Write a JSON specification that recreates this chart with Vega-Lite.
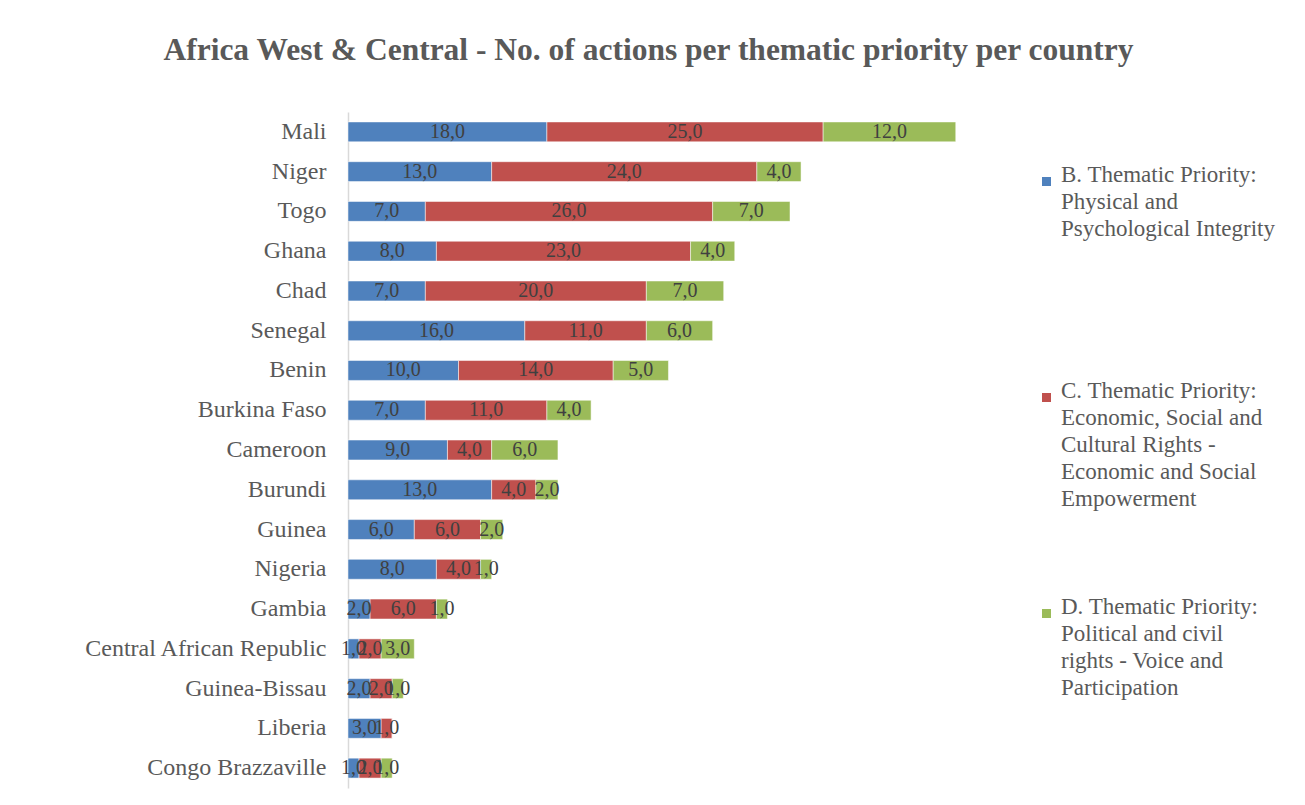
{
  "$schema": "https://vega.github.io/schema/vega-lite/v6.json",
  "width": 663,
  "height": 676,
  "autosize": "none",
  "padding": {"left": 348, "top": 112, "right": 294, "bottom": 17},
  "background": "white",
  "title": {
    "text": "Africa West & Central  - No. of actions per thematic priority  per country",
    "font": "Liberation Serif",
    "fontSize": 31.5,
    "fontWeight": "bold",
    "color": "#595959",
    "anchor": "middle",
    "dx": -31,
    "offset": 46
  },
  "config": {
    "view": {"stroke": null},
    "font": "Liberation Serif",
    "style": {"guide-label": {"lineHeight": 27}}
  },
  "data": {
    "values": [
      {"country": "Mali", "theme": "B", "value": 18},
      {"country": "Mali", "theme": "C", "value": 25},
      {"country": "Mali", "theme": "D", "value": 12},
      {"country": "Niger", "theme": "B", "value": 13},
      {"country": "Niger", "theme": "C", "value": 24},
      {"country": "Niger", "theme": "D", "value": 4},
      {"country": "Togo", "theme": "B", "value": 7},
      {"country": "Togo", "theme": "C", "value": 26},
      {"country": "Togo", "theme": "D", "value": 7},
      {"country": "Ghana", "theme": "B", "value": 8},
      {"country": "Ghana", "theme": "C", "value": 23},
      {"country": "Ghana", "theme": "D", "value": 4},
      {"country": "Chad", "theme": "B", "value": 7},
      {"country": "Chad", "theme": "C", "value": 20},
      {"country": "Chad", "theme": "D", "value": 7},
      {"country": "Senegal", "theme": "B", "value": 16},
      {"country": "Senegal", "theme": "C", "value": 11},
      {"country": "Senegal", "theme": "D", "value": 6},
      {"country": "Benin", "theme": "B", "value": 10},
      {"country": "Benin", "theme": "C", "value": 14},
      {"country": "Benin", "theme": "D", "value": 5},
      {"country": "Burkina Faso", "theme": "B", "value": 7},
      {"country": "Burkina Faso", "theme": "C", "value": 11},
      {"country": "Burkina Faso", "theme": "D", "value": 4},
      {"country": "Cameroon", "theme": "B", "value": 9},
      {"country": "Cameroon", "theme": "C", "value": 4},
      {"country": "Cameroon", "theme": "D", "value": 6},
      {"country": "Burundi", "theme": "B", "value": 13},
      {"country": "Burundi", "theme": "C", "value": 4},
      {"country": "Burundi", "theme": "D", "value": 2},
      {"country": "Guinea", "theme": "B", "value": 6},
      {"country": "Guinea", "theme": "C", "value": 6},
      {"country": "Guinea", "theme": "D", "value": 2},
      {"country": "Nigeria", "theme": "B", "value": 8},
      {"country": "Nigeria", "theme": "C", "value": 4},
      {"country": "Nigeria", "theme": "D", "value": 1},
      {"country": "Gambia", "theme": "B", "value": 2},
      {"country": "Gambia", "theme": "C", "value": 6},
      {"country": "Gambia", "theme": "D", "value": 1},
      {"country": "Central African Republic", "theme": "B", "value": 1},
      {"country": "Central African Republic", "theme": "C", "value": 2},
      {"country": "Central African Republic", "theme": "D", "value": 3},
      {"country": "Guinea-Bissau", "theme": "B", "value": 2},
      {"country": "Guinea-Bissau", "theme": "C", "value": 2},
      {"country": "Guinea-Bissau", "theme": "D", "value": 1},
      {"country": "Liberia", "theme": "B", "value": 3},
      {"country": "Liberia", "theme": "C", "value": 1},
      {"country": "Liberia", "theme": "D", "value": 0},
      {"country": "Congo Brazzaville", "theme": "B", "value": 1},
      {"country": "Congo Brazzaville", "theme": "C", "value": 2},
      {"country": "Congo Brazzaville", "theme": "D", "value": 1}
    ]
  },
  "transform": [
    {"stack": "value", "groupby": ["country"], "sort": [{"field": "theme", "order": "ascending"}], "as": ["x0", "x1"]},
    {"calculate": "(datum.x0 + datum.x1) / 2", "as": "xmid"},
    {"calculate": "replace(format(datum.value, '.1f'), '.', ',')", "as": "label"}
  ],
  "encoding": {
    "y": {
      "field": "country",
      "type": "nominal",
      "sort": null,
      "scale": {"paddingInner": 0.5, "paddingOuter": 0.25},
      "axis": {
        "title": null,
        "ticks": false,
        "domainColor": "#D9D9D9",
        "domainWidth": 1.5,
        "labelFont": "Liberation Serif",
        "labelFontSize": 24,
        "labelColor": "#595959",
        "labelPadding": 22,
        "labelLimit": 400
      }
    }
  },
  "layer": [
    {
      "mark": {"type": "bar", "stroke": "white", "strokeWidth": 0.5},
      "encoding": {
        "x": {"field": "x0", "type": "quantitative", "scale": {"domain": [0, 60], "nice": false}, "axis": null},
        "x2": {"field": "x1"},
        "color": {
          "field": "theme",
          "type": "nominal",
          "scale": {"domain": ["B", "C", "D"], "range": ["#4F81BD", "#C0504D", "#9BBB59"]},
          "legend": {
            "title": null,
            "orient": "none",
            "legendX": 687,
            "legendY": 58,
            "symbolType": "square",
            "symbolSize": 81,
            "symbolStrokeWidth": 0,
            "labelFont": "Liberation Serif",
            "labelFontSize": 23,
            "labelColor": "#595959",
            "labelBaseline": "alphabetic",
            "labelOffset": 3,
            "labelLimit": 300,
            "rowPadding": 84,
            "labelExpr": "datum.label == 'B' ? ['B. Thematic Priority:', 'Physical and', 'Psychological Integrity', '', ''] : datum.label == 'C' ? ['C. Thematic Priority:', 'Economic, Social and', 'Cultural Rights -', 'Economic and Social', 'Empowerment'] : ['D. Thematic Priority:', 'Political and civil', 'rights - Voice and', 'Participation', '']"
          }
        }
      }
    },
    {
      "transform": [{"filter": "datum.value > 0"}],
      "mark": {"type": "text", "font": "Liberation Serif", "fontSize": 20, "color": "#404040", "baseline": "middle"},
      "encoding": {
        "x": {"field": "xmid", "type": "quantitative"},
        "text": {"field": "label"}
      }
    }
  ]
}
